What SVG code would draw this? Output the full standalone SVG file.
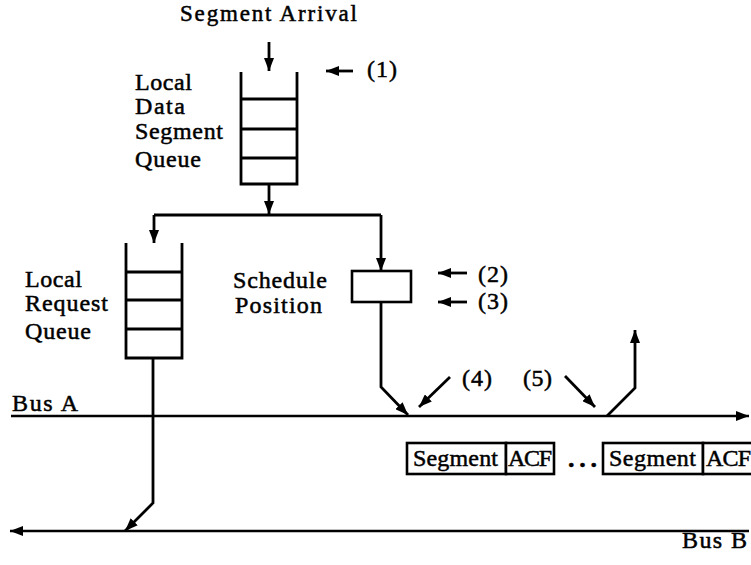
<svg xmlns="http://www.w3.org/2000/svg" width="751" height="565" viewBox="0 0 751 565">
<defs>
<marker id="ah" markerUnits="userSpaceOnUse" markerWidth="14" markerHeight="10" refX="13" refY="5" orient="auto">
<path d="M0,0 L13,5 L0,10 Z" fill="#000"/>
</marker>
<style>
text{font-family:"Liberation Serif","Times New Roman",serif;font-size:24px;fill:#000;stroke:#000;stroke-width:0.5px}
.dots{font-weight:bold;font-size:26px}
.ln{fill:none;stroke:#000;stroke-width:2.8}
.bus{fill:none;stroke:#000;stroke-width:2.4}
.ar{fill:none;stroke:#000;stroke-width:2.8;marker-end:url(#ah)}
.bx{fill:#fff;stroke:#000;stroke-width:2.6}
</style>
</defs>
<rect width="751" height="565" fill="#fff"/>

<g id="data-queue">
<path class="ln" d="M241,72 V184 H297 V72"/>
<path class="ln" d="M241,99 H297 M241,129 H297 M241,158 H297"/>
<text x="135" y="90" textLength="57">Local</text>
<text x="135" y="114" textLength="50">Data</text>
<text x="135" y="139" textLength="88">Segment</text>
<text x="135" y="167" textLength="66">Queue</text>
</g>

<g id="request-queue">
<path class="ln" d="M126,243 V358 H182 V243"/>
<path class="ln" d="M126,272 H182 M126,300 H182 M126,329 H182"/>
<text x="25" y="287" textLength="57">Local</text>
<text x="25" y="311" textLength="83">Request</text>
<text x="25" y="339" textLength="66">Queue</text>
</g>

<g id="schedule-position">
<rect class="bx" x="352" y="271" width="59" height="31"/>
<text x="233" y="288" textLength="94">Schedule</text>
<text x="235" y="313" textLength="87">Position</text>
</g>

<g id="segments">
<rect class="bx" x="407" y="443" width="99" height="31"/>
<rect class="bx" x="506" y="443" width="48" height="31"/>
<text x="413" y="466" textLength="85">Segment</text>
<text x="508" y="466" textLength="44">ACF</text>
<text class="dots" x="568" y="467" textLength="29">...</text>
<rect class="bx" x="603" y="443" width="100" height="31"/>
<rect class="bx" x="703" y="443" width="52" height="31"/>
<text x="609" y="466" textLength="87">Segment</text>
<text x="706" y="466" textLength="45">ACF</text>
</g>

<g id="labels">
<text x="180" y="21" textLength="177" style="font-size:23px">Segment Arrival</text>
<text x="367" y="77" textLength="30">(1)</text>
<text x="478" y="282" textLength="30">(2)</text>
<text x="478" y="309" textLength="30">(3)</text>
<text x="462" y="386" textLength="30">(4)</text>
<text x="523" y="386" textLength="29">(5)</text>
<text x="12" y="411" textLength="66">Bus A</text>
<text x="682" y="548" textLength="65">Bus B</text>
</g>

<g id="connectors">
<path class="ar" d="M269,42 V71"/>
<path class="ar" d="M269,184 V214"/>
<path class="ln" d="M154,215 H381"/>
<path class="ar" d="M154,215 V243"/>
<path class="ar" d="M381,215 V271"/>
<path class="ar" d="M381,302 V387 L408,415"/>
<path class="ar" d="M353,71 H326"/>
<path class="ar" d="M467,273 H438"/>
<path class="ar" d="M467,302 H438"/>
<path class="ar" d="M450,377 L419,407"/>
<path class="ar" d="M565,376 L595,407"/>
<path class="ar" d="M607,416 L635,388 V330"/>
<path class="bus" style="marker-end:url(#ah)" d="M11,416 H749"/>
<path class="bus" style="marker-end:url(#ah)" d="M749,531 H10"/>
<path class="ar" d="M153,358 V503 L125,531"/>
</g>
</svg>
